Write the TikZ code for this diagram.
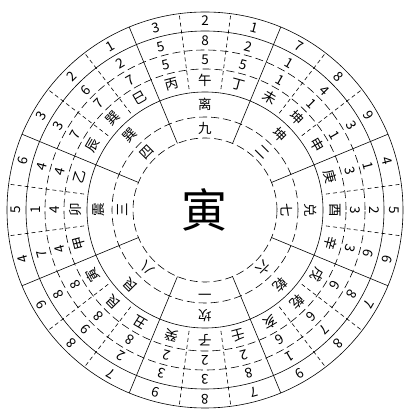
\documentclass[tikz,border=0pt]{standalone}
\usepackage{fontspec}
\newfontfamily\cjk{Noto Sans CJK SC}
\begin{document}
\begin{tikzpicture}[x=1pt,y=1pt,
  txt/.style={inner sep=0pt, font=\cjk\fontsize{13.5}{13.5}\selectfont},
  solidring/.style={line width=0.6pt},
  dashring/.style={line width=0.6pt, dash pattern=on 8pt off 4pt},
  palaceline/.style={line width=0.6pt},
  mountline/.style={line width=0.6pt, dash pattern=on 4pt off 3pt}]
\useasboundingbox[fill=white] (-205,-204) rectangle (210,210);
\coordinate (c) at (0,0);
% rings
\draw[solidring] (c) circle (198);
\draw[solidring] (c) circle (179);
\draw[dashring] (c) circle (160);
\draw[dashring] (c) circle (141);
\draw[solidring] (c) circle (118);
\draw[dashring] (c) circle (93);
\draw[dashring] (c) circle (72);
% palace boundaries
\foreach \a [count=\i] in {22.5,67.5,...,337.5}{
  \coordinate (pa\i) at (\a:72);
  \coordinate (pb\i) at (\a:198);
  \draw[palaceline] (pa\i) -- (pb\i);
}
% mountain boundaries
\foreach \a [count=\i] in {7.5,37.5,52.5,82.5,97.5,127.5,142.5,172.5,187.5,217.5,232.5,262.5,277.5,307.5,322.5,352.5}{
  \coordinate (ma\i) at (\a:122);
  \coordinate (mb\i) at (\a:198);
  \draw[mountline] (ma\i) -- (mb\i);
}
% mountains with three numbers
\foreach \a/\m/\o/\p/\q [count=\i] in {
  105/丙/3/5/5, 90/午/2/8/5, 75/丁/1/2/5,
  60/未/7/1/1, 45/坤/8/4/1, 30/申/9/3/1,
  15/庚/4/1/3, 0/酉/5/2/3, -15/辛/6/6/3,
  -30/戌/7/8/6, -45/乾/8/7/6, -60/亥/9/1/6,
  -75/壬/7/8/2, -90/子/8/3/2, -105/癸/9/3/2,
  -120/丑/7/2/8, -135/艮/8/9/8, -150/寅/9/8/8,
  -165/甲/4/7/4, 180/卯/5/1/4, 165/乙/6/4/4,
  150/辰/3/3/7, 135/巽/2/6/7, 120/巳/1/2/7}{
  \node[txt, rotate=\a-90] (no\i) at (\a:189) {\o};
  \node[txt, rotate=\a-90] (np\i) at (\a:169) {\p};
  \node[txt, rotate=\a-90] (nq\i) at (\a:150) {\q};
  \node[txt, rotate=\a-90] (mt\i) at (\a:130) {\m};
}
% trigrams and palace numbers
\foreach \a/\g/\n [count=\i] in {
  90/离/九, 45/坤/二, 0/兑/七, -45/乾/六,
  -90/坎/一, -135/艮/八, 180/震/三, 135/巽/四}{
  \node[txt, rotate=\a-90] (tg\i) at (\a:106) {\g};
  \node[txt, rotate=\a-90] (pn\i) at (\a:82) {\n};
}
% centre
\node[inner sep=0pt, font=\cjk\fontsize{46}{46}\selectfont] (ctr) at (c) {寅};
\end{tikzpicture}
\end{document}
